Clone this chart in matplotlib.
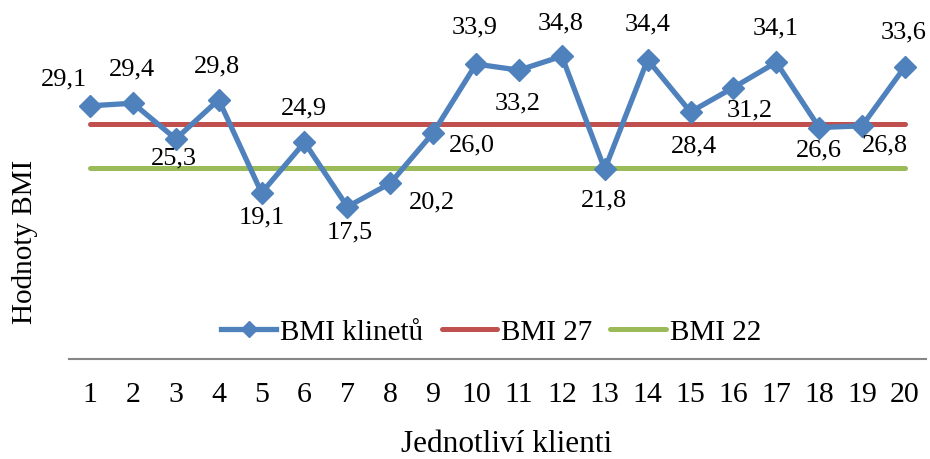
import matplotlib.pyplot as plt
import numpy as np

plt.rcParams['font.family'] = ['Liberation Serif', 'DejaVu Serif']

klienti = list(range(1, 21))
bmi = [29.1, 29.4, 25.3, 29.8, 19.1, 24.9, 17.5, 20.2, 26.0, 33.9,
       33.2, 34.8, 21.8, 34.4, 28.4, 31.2, 34.1, 26.6, 26.8, 33.6]
bmi_27 = [27] * 20
bmi_22 = [22] * 20

# label offsets (pixels) relative to each point
label_dx = [-26, -1, -2, -2, 0, -1, 2, 42, 39, -1, -1, -1, -1, 0, 3, 16, -1, 0, 23, -1]
label_dy = [27, 35, -19, 34, -24, 35, -25, -18, -12, 38, -32, 34, -30, 36, -34, -22, 35, -22, -19, 35]

fig = plt.figure(figsize=(9.3, 4.6), dpi=100)
ax = fig.add_axes([68.6 / 930, 1 - 360 / 460, (926.4 - 68.6) / 930, 348 / 460])

ax.plot(klienti, bmi_27, color='#C0504D', lw=3.6, solid_capstyle='round', label='BMI 27', zorder=2)
ax.plot(klienti, bmi_22, color='#9BBB59', lw=3.6, solid_capstyle='round', label='BMI 22', zorder=2)
ax.plot(klienti, bmi, color='#4F81BD', lw=3.8, marker='D', markersize=11,
        label='BMI klinetů', zorder=3)

for x, y, dx, dy in zip(klienti, bmi, label_dx, label_dy):
    ax.annotate(f'{y:.1f}'.replace('.', ','), (x, y), xytext=(dx, dy),
                textcoords='offset pixels', ha='center', va='center', fontsize=19)

ax.set_xlim(0.5, 20.5)
ax.set_ylim(0, 40)
ax.set_xticks(klienti)
ax.set_xticklabels([str(k) for k in klienti], fontsize=21.5)
ax.tick_params(axis='x', length=0, pad=16)
ax.set_yticks([])
for s in ['left', 'right', 'top']:
    ax.spines[s].set_visible(False)
ax.spines['bottom'].set_color('#868686')
ax.spines['bottom'].set_linewidth(1.5)

h, l = ax.get_legend_handles_labels()
order = [2, 0, 1]
fig.legend([h[i] for i in order], [l[i] for i in order], loc='center',
           bbox_to_anchor=(491 / 930, 1 - 333 / 460), ncol=3, frameon=False,
           fontsize=21, handlelength=1.9, handletextpad=0.14, columnspacing=0.62,
           borderpad=0, borderaxespad=0, markerscale=0.7)

fig.text(507 / 930, 1 - 445 / 460, 'Jednotliví klienti', ha='center', va='center', fontsize=22.5)
fig.text(25 / 930, 1 - 242 / 460, 'Hodnoty BMI', ha='center', va='center', rotation=90, fontsize=21)

fig.savefig('out.png', dpi=100)
